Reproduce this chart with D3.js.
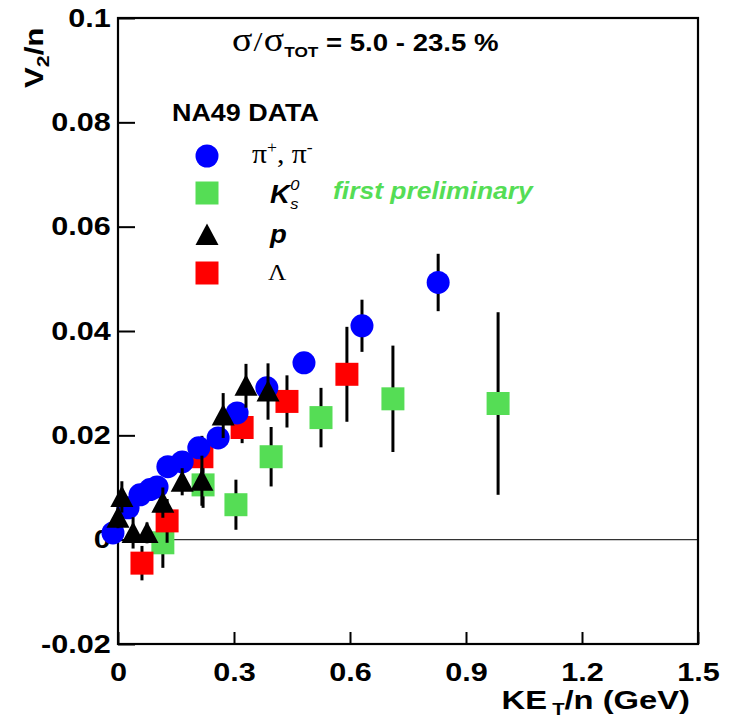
<!DOCTYPE html>
<html><head><meta charset="utf-8">
<script src="https://cdn.jsdelivr.net/npm/d3@7"></script>
<style>body{margin:0;background:#fff}svg{display:block}</style>
</head><body>
<script>
// Axis ticks
const xTicks = [0, 0.3, 0.6, 0.9, 1.2, 1.5];
const xTickLabels = ["0", "0.3", "0.6", "0.9", "1.2", "1.5"];
const yTicks = [-0.02, 0, 0.02, 0.04, 0.06, 0.08, 0.1];
const yTickLabels = ["-0.02", "0", "0.02", "0.04", "0.06", "0.08", "0.1"];

// pi+, pi-
const pionX   = [-0.013, 0.026, 0.057, 0.083, 0.101, 0.129, 0.166, 0.209, 0.259, 0.308, 0.385, 0.481, 0.631, 0.828];
const pionY   = [0.0013, 0.0061, 0.0086, 0.0096, 0.0101, 0.0140, 0.0149, 0.0176, 0.0195, 0.0243, 0.0291, 0.0339, 0.0410, 0.0493];
const pionErr = [0.002, 0.002, 0.002, 0.002, 0.002, 0.002, 0.002, 0.002, 0.002, 0.002, 0.002, 0.002, 0.0050, 0.0055];

// K0s (first preliminary)
const k0X   = [0.116, 0.220, 0.305, 0.396, 0.525, 0.711, 0.983];
const k0Y   = [-0.0006, 0.0105, 0.0067, 0.0159, 0.0234, 0.0270, 0.0261];
const k0Err = [0.0048, 0.0044, 0.0048, 0.0057, 0.0057, 0.0102, 0.0175];

// protons
const protonX   = [0.0, 0.010, 0.039, 0.075, 0.116, 0.166, 0.217, 0.272, 0.331, 0.388];
const protonY   = [0.0042, 0.0082, 0.0013, 0.0013, 0.0071, 0.0111, 0.0113, 0.0238, 0.0295, 0.0284];
const protonErr = [0.002, 0.003, 0.003, 0.002, 0.0029, 0.0026, 0.0048, 0.0043, 0.0042, 0.0054];

// Lambda
const lambdaX   = [0.062, 0.127, 0.217, 0.321, 0.437, 0.592];
const lambdaY   = [-0.0045, 0.0036, 0.0159, 0.0215, 0.0265, 0.0317];
const lambdaErr = [0.0033, 0.0042, 0.004, 0.003, 0.0050, 0.0091];

const W = 729, H = 721;
const padL = 118, padR = 698, padT = 18, padB = 644;
const SX = 1.2; // horizontal stretch of all lettering
const SANS = "'Liberation Sans', Arial, sans-serif";
const SERIF = "'Liberation Serif', 'Times New Roman', serif";
const BLUE = "#0000ff", GREEN = "#55dd55", RED = "#ff0000", BLACK = "#000000";

const svg = d3.select("body").append("svg").attr("width", W).attr("height", H)
  .style("background", "#fff");

const x = d3.scaleLinear().domain([0, 1.5]).range([padL, padR]);
const y = d3.scaleLinear().domain([-0.02, 0.1]).range([padB, padT]);

// zero line
svg.append("line")
  .attr("x1", padL).attr("x2", padR).attr("y1", y(0)).attr("y2", y(0))
  .attr("stroke", "#333").attr("stroke-width", 1.3);

// axes
const yAxis = svg.append("g").attr("transform", `translate(${padL},0)`)
  .call(d3.axisLeft(y).tickValues(yTicks).tickSize(-17).tickPadding(6)
    .tickFormat((d, i) => yTickLabels[i]));
const xAxis = svg.append("g").attr("transform", `translate(0,${padB})`)
  .call(d3.axisBottom(x).tickValues(xTicks).tickSize(-12).tickPadding(19)
    .tickFormat((d, i) => xTickLabels[i]));
[yAxis, xAxis].forEach(a => {
  a.select(".domain").remove();
  a.selectAll(".tick line").attr("stroke", BLACK).attr("stroke-width", 2);
  a.selectAll(".tick text")
    .attr("font-family", SANS).attr("font-weight", "bold").attr("font-size", 25.5)
    .attr("fill", BLACK).attr("transform", `scale(${SX},1)`);
});

// frame
svg.append("rect").attr("x", padL).attr("y", padT)
  .attr("width", padR - padL).attr("height", padB - padT)
  .attr("fill", "none").attr("stroke", BLACK).attr("stroke-width", 2.2);

// marker shapes
const sym = {
  circle: d3.symbol().type(d3.symbolCircle).size(Math.PI * 11.5 * 11.5)(),
  square: "M-11.5,-11.5H11.5V11.5H-11.5Z",
  triangle: "M0,-11.5L11.5,10L-11.5,10Z"
};

function series(xs, ys, errs, color, shape) {
  const g = svg.append("g");
  const pts = xs.map((d, i) => ({ x: d, y: ys[i], e: errs[i] }));
  g.selectAll("line").data(pts).join("line")
    .attr("x1", d => x(d.x)).attr("x2", d => x(d.x))
    .attr("y1", d => y(d.y + d.e)).attr("y2", d => y(d.y - d.e))
    .attr("stroke", BLACK).attr("stroke-width", 3);
  g.selectAll("path").data(pts).join("path")
    .attr("d", sym[shape])
    .attr("transform", d => `translate(${x(d.x)},${y(d.y)})`)
    .attr("fill", color);
}

series(k0X, k0Y, k0Err, GREEN, "square");
series(lambdaX, lambdaY, lambdaErr, RED, "square");
series(pionX, pionY, pionErr, BLUE, "circle");
series(protonX, protonY, protonErr, BLACK, "triangle");

// lettering helper: text anchored at (px,py), stretched horizontally
function label(px, py, opts = {}) {
  return svg.append("text")
    .attr("transform", `translate(${px},${py}) ${opts.rotate ? "rotate(-90)" : ""} scale(${opts.sx || SX},1)`)
    .attr("text-anchor", opts.anchor || "start")
    .attr("font-family", opts.family || SANS)
    .attr("font-weight", opts.weight || "bold")
    .attr("font-style", opts.style || "normal")
    .attr("font-size", opts.size || 25)
    .attr("fill", opts.fill || BLACK);
}

// title
const t = label(232, 51, { size: 24, sx: 1.15 });
t.append("tspan").attr("font-family", SERIF).attr("font-weight", "normal").attr("font-size", 33).text("σ");
t.append("tspan").attr("font-family", SERIF).attr("font-weight", "normal").attr("font-size", 28).attr("dx", 1).text("/");
t.append("tspan").attr("font-family", SERIF).attr("font-weight", "normal").attr("font-size", 33).attr("dx", 1).text("σ");
t.append("tspan").attr("font-size", 15).attr("dy", 6).text("TOT");
t.append("tspan").attr("dy", -6).text(" = 5.0 - 23.5 %");

// axis titles
const xt = label(690, 709, { anchor: "end", size: 26, sx: 1.26 });
xt.append("tspan").text("KE");
xt.append("tspan").attr("font-size", 16).attr("dy", 6).attr("dx", 4).text("T");
xt.append("tspan").attr("dy", -6).text("/n (GeV)");

const yt = label(43, 88, { rotate: true, size: 25, sx: 1.25 });
yt.append("tspan").text("V");
yt.append("tspan").attr("font-size", 17).attr("dy", 6).text("2");
yt.append("tspan").attr("dy", -6).text("/n");

// legend
label(172, 121, { size: 23, sx: 1.17 }).text("NA49 DATA");

const legendRows = [
  { shape: "circle", color: BLUE, cy: 156 },
  { shape: "square", color: GREEN, cy: 193 },
  { shape: "triangle", color: BLACK, cy: 235 },
  { shape: "square", color: RED, cy: 273 }
];
svg.append("g").selectAll("path").data(legendRows).join("path")
  .attr("d", d => sym[d.shape])
  .attr("transform", d => `translate(207,${d.cy})`)
  .attr("fill", d => d.color);

const pl = label(252, 163, { family: SERIF, weight: "normal", size: 27, sx: 1.1 });
pl.append("tspan").text("π");
pl.append("tspan").attr("font-size", 16).attr("dy", -10).text("+");
pl.append("tspan").attr("dy", 10).text(", π");
pl.append("tspan").attr("font-size", 16).attr("dy", -10).text("-");

// K0s: superscript 0 stacked over subscript s
const kl = label(270, 203, { style: "italic", size: 25, sx: 1.1 });
kl.append("tspan").text("K");
kl.append("tspan").attr("x", 18.5).attr("dy", -13).attr("font-size", 15).attr("font-weight", "normal").text("0");
kl.append("tspan").attr("x", 18.5).attr("dy", 19).attr("font-size", 15).attr("font-weight", "normal").text("s");

label(333, 199, { style: "italic", size: 23, sx: 1.15, fill: GREEN }).text("first preliminary");

label(270, 243, { style: "italic", size: 25, sx: 1.1 }).text("p");
label(268, 280, { family: SERIF, weight: "normal", size: 23, sx: 1.1 }).text("Λ");
</script>
</body></html>
